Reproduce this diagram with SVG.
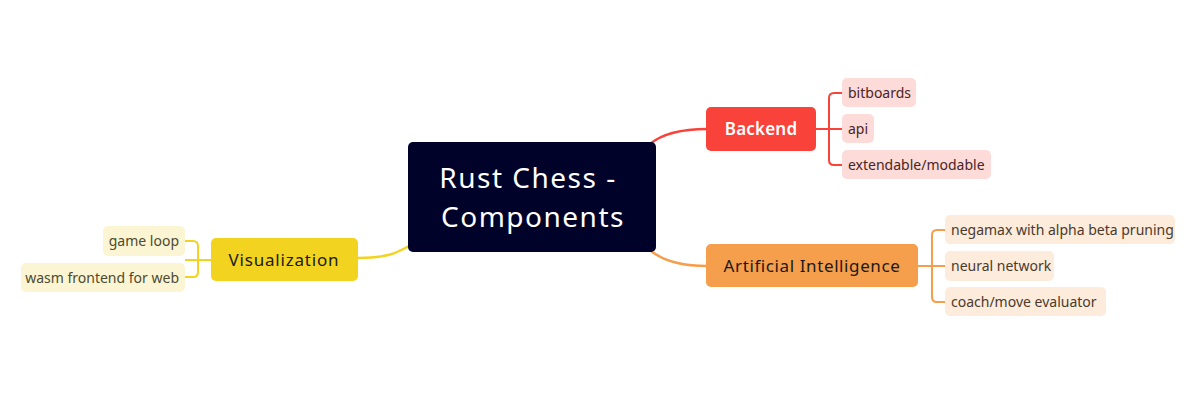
<svg xmlns="http://www.w3.org/2000/svg" width="1195" height="411" viewBox="0 0 1195 411">
<style>
.conn{fill:none;stroke-width:2.5;stroke-linecap:round}
.br{fill:none;stroke-width:2;stroke-linejoin:round}
.t-main{font-family:"Noto Sans","Open Sans",sans-serif;font-size:17px;text-anchor:middle;letter-spacing:0.6px}
.t-sub{font-family:"Noto Sans","Open Sans",sans-serif;font-size:14px}
.t-center{font-family:"Noto Sans","Open Sans",sans-serif;font-size:28px;fill:#ffffff;text-anchor:middle;letter-spacing:1.5px}
</style>
<rect width="1195" height="411" fill="#ffffff"/>
<g id="connectors">
<path class="conn" stroke="#F9423A" d="M650,144 Q668,129 707,129"/>
<path class="conn" stroke="#F59E4B" d="M651,251 Q670,266 707,266"/>
<path class="conn" stroke="#F2D31F" d="M357,258 C385,258 395,254 409,246"/>
<path class="br" stroke="#F9423A" d="M816,129 H842 M842,93 H834 Q829,93 829,98 V160 Q829,165 834,165 H842"/>
<path class="br" stroke="#F59E4B" d="M918,266 H945 M945,230 H937 Q932,230 932,235 V297 Q932,302 937,302 H945"/>
<path class="br" stroke="#F2D31F" d="M211,260 H185 M185,241 H193 Q198,241 198,246 V272 Q198,277 193,277 H185"/>
</g>
<g id="center">
<rect x="408" y="142" width="248" height="110" rx="5" fill="#000229"/>
<text class="t-center" x="528" y="188">Rust Chess -</text>
<text class="t-center" x="533" y="227">Components</text>
</g>
<g id="backend">
<rect x="706" y="107" width="110" height="44" rx="5" fill="#F9423A"/>
<text class="t-main" x="761" y="135" fill="#ffffff" font-weight="600" style="letter-spacing:0.2px">Backend</text>
</g>
<g id="bitboards">
<rect x="842" y="78" width="74" height="29" rx="5" fill="#FDDBD8"/>
<text class="t-sub" x="848" y="98" fill="#4a2424">bitboards</text>
</g>
<g id="api">
<rect x="842" y="114" width="32" height="29" rx="5" fill="#FDDBD8"/>
<text class="t-sub" x="848" y="134" fill="#4a2424">api</text>
</g>
<g id="extendable">
<rect x="842" y="150" width="149" height="29" rx="5" fill="#FDDBD8"/>
<text class="t-sub" x="848" y="170" fill="#4a2424">extendable/modable</text>
</g>
<g id="ai">
<rect x="706" y="244" width="212" height="43" rx="5" fill="#F59E4B"/>
<text class="t-main" x="812" y="272" fill="#1a1a1a">Artificial Intelligence</text>
</g>
<g id="negamax">
<rect x="945" y="215" width="230" height="29" rx="5" fill="#FDEBDB"/>
<text class="t-sub" x="951" y="235" fill="#4a3a2c">negamax with alpha beta pruning</text>
</g>
<g id="neural">
<rect x="945" y="251" width="109" height="30" rx="5" fill="#FDEBDB"/>
<text class="t-sub" x="951" y="271" fill="#4a3a2c">neural network</text>
</g>
<g id="coach">
<rect x="945" y="287" width="161" height="29" rx="5" fill="#FDEBDB"/>
<text class="t-sub" x="951" y="307" fill="#4a3a2c">coach/move evaluator</text>
</g>
<g id="visualization">
<rect x="211" y="238" width="147" height="43" rx="5" fill="#F2D31F"/>
<text class="t-main" x="284" y="266" fill="#1a1a1a" style="letter-spacing:0.8px">Visualization</text>
</g>
<g id="gameloop">
<rect x="103" y="226" width="82" height="30" rx="5" fill="#FCF5D3"/>
<text class="t-sub" x="179" y="246" fill="#4d4a30" text-anchor="end">game loop</text>
</g>
<g id="wasm">
<rect x="21" y="263" width="164" height="29" rx="5" fill="#FCF5D3"/>
<text class="t-sub" x="179" y="283" fill="#4d4a30" text-anchor="end">wasm frontend for web</text>
</g>
</svg>
